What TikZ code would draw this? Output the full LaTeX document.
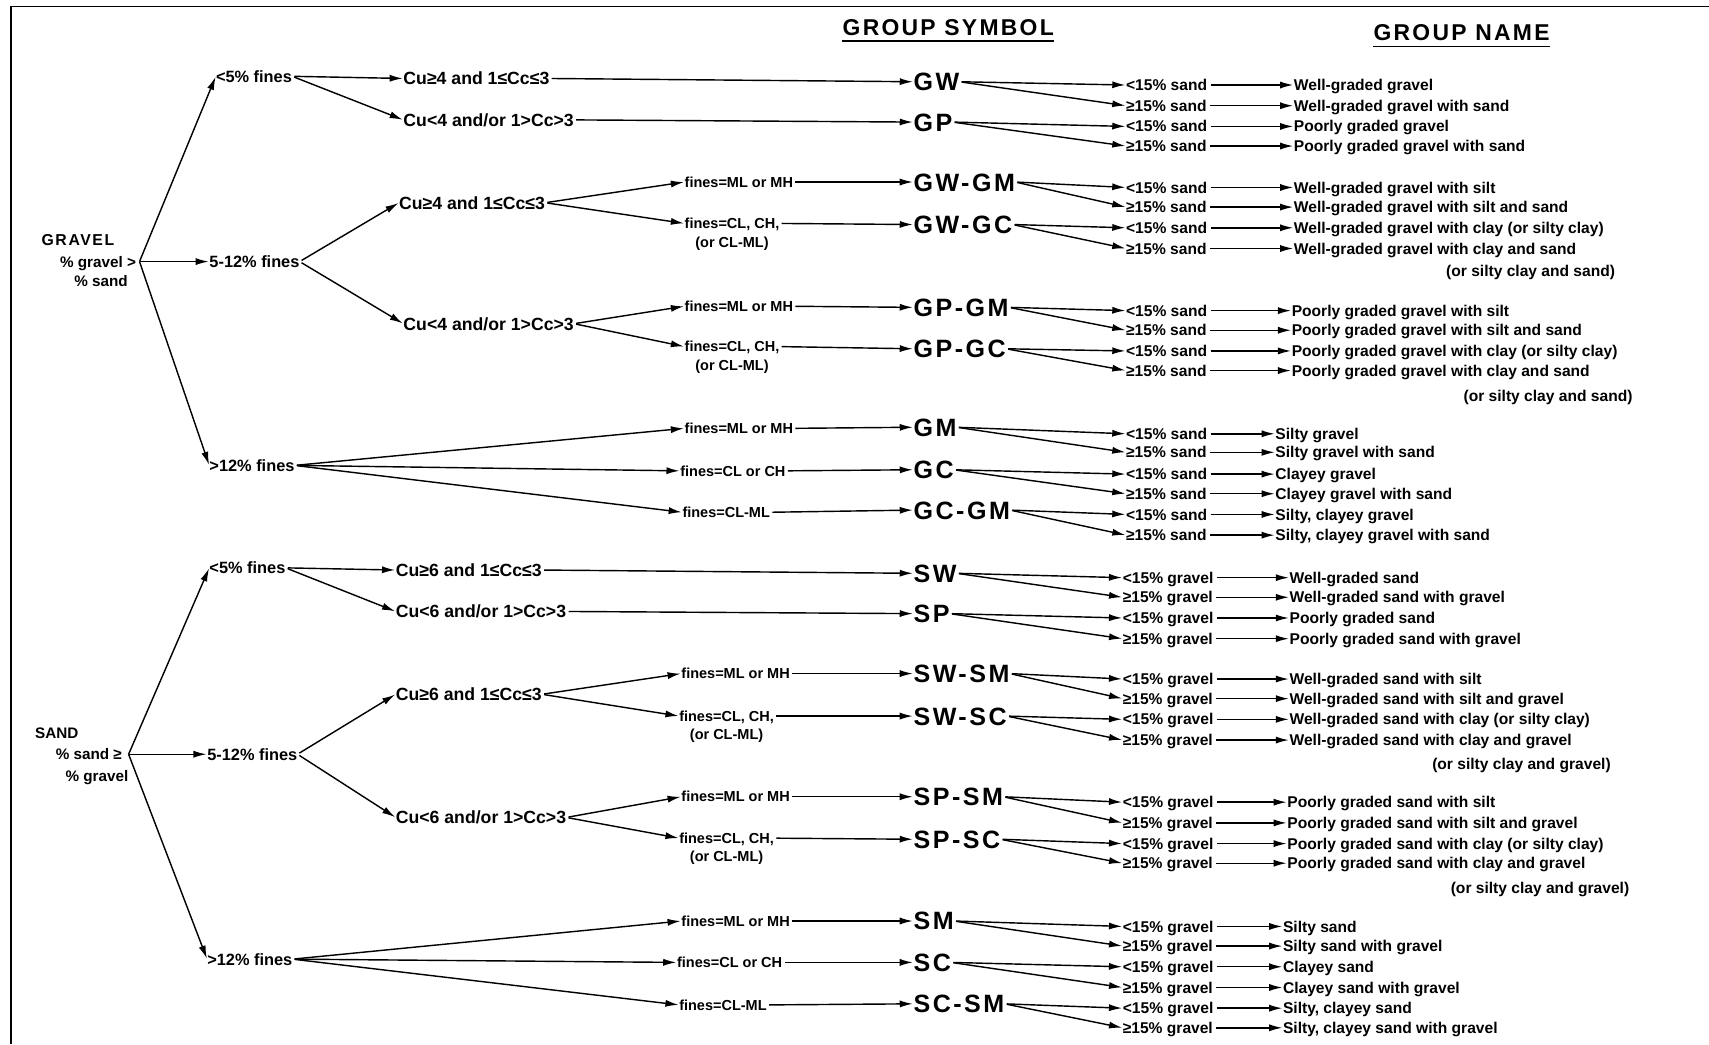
\documentclass[tikz,border=0pt]{standalone}
\usepackage{fontspec}
\setmainfont{Liberation Sans}
\newfontfamily\spacedfont{Liberation Sans}[LetterSpace=10]
\usetikzlibrary{arrows.meta}
\begin{document}
\begin{tikzpicture}[x=1pt,y=-1pt,
  txt/.style={inner sep=0pt, anchor=west, text height=10.8pt, text depth=0pt, font=\bfseries\fontsize{15}{15}\selectfont},
  cu/.style={txt, text height=11.6pt, font=\bfseries\fontsize{16.2}{16.2}\selectfont},
  nam/.style={txt, text height=10.2pt, font=\bfseries\fontsize{14.3}{14.3}\selectfont},
  fin/.style={txt, text height=9.6pt, font=\bfseries\fontsize{13.3}{13.3}\selectfont},
  lbl/.style={txt, text height=10pt, font=\bfseries\fontsize{14}{14}\selectfont},
  sym/.style={txt, text height=16.5pt, font=\spacedfont\bfseries\fontsize{23}{23}\selectfont},
  head/.style={inner sep=0pt, text height=15pt, text depth=0pt, font=\spacedfont\bfseries\fontsize{21}{21}\selectfont},
  arr/.style={-{Latex[length=12pt,width=6.5pt]}, line width=1.3pt, shorten <=2pt, shorten >=0.5pt},
]
\useasboundingbox (0,0) rectangle (1568,958);
\fill[white] (0,0) rectangle (1568,958);
\draw[line width=1.5pt] (10,958) -- (10,6) -- (1568,6);

% headings
\node[head] (hs) at (870,25) {GROUP SYMBOL};
\node[head] (hn) at (1341,30) {GROUP NAME};
\draw[line width=1.3pt] ([yshift=-5pt]hs.south west) -- ([yshift=-5pt]hs.south east);
\draw[line width=1.3pt] ([yshift=-5pt]hn.south west) -- ([yshift=-5pt]hn.south east);

% ================= GRAVEL =================
\node[lbl, font=\spacedfont\bfseries\fontsize{14.5}{14.5}\selectfont] (gA) at (38,220) {GRAVEL};
\node[lbl, anchor=east] (gB) at (125,240) {\% gravel >};
\node[lbl] (gC) at (68,258) {\% sand};
\coordinate (gO) at (128,240);

\node[txt] (g5) at (198,70) {<5\% fines};
\node[txt] (g512) at (192,240) {5-12\% fines};
\node[txt] (g12) at (192,427) {>12\% fines};
\draw[arr, shorten <=0pt] (gO) -- (g5.west);
\draw[arr, shorten <=0pt] (gO) -- (g512.west);
\draw[arr, shorten <=0pt] (gO) -- (g12.west);

\node[cu] (gc1) at (370,72) {Cu≥4 and 1≤Cc≤3};
\node[cu] (gc2) at (370,110) {Cu<4 and/or 1>Cc>3};
\node[cu] (gc3) at (366,186) {Cu≥4 and 1≤Cc≤3};
\node[cu] (gc4) at (370,297) {Cu<4 and/or 1>Cc>3};
\draw[arr] (g5.east) -- (gc1.west);
\draw[arr] (g5.east) -- (gc2.west);
\draw[arr] (g512.east) -- (gc3.west);
\draw[arr] (g512.east) -- (gc4.west);

\node[fin] (gf1) at (628,167) {fines=ML or MH};
\node[fin] (gf2) at (628,205) {fines=CL, CH,};
\node[fin, anchor=north] (gf2b) at ([yshift=-7pt]gf2.south) {(or CL-ML)};
\node[fin] (gf3) at (628,281) {fines=ML or MH};
\node[fin] (gf4) at (628,318) {fines=CL, CH,};
\node[fin, anchor=north] (gf4b) at ([yshift=-7pt]gf4.south) {(or CL-ML)};
\node[fin] (gf5) at (628,393) {fines=ML or MH};
\node[fin] (gf6) at (624,432) {fines=CL or CH};
\node[fin] (gf7) at (626,470) {fines=CL-ML};
\draw[arr] (gc3.east) -- (gf1.west);
\draw[arr] (gc3.east) -- (gf2.west);
\draw[arr] (gc4.east) -- (gf3.west);
\draw[arr] (gc4.east) -- (gf4.west);
\draw[arr] (g12.east) -- (gf5.west);
\draw[arr] (g12.east) -- (gf6.west);
\draw[arr] (g12.east) -- (gf7.west);

\foreach \n/\y/\t in {1/75/GW, 2/112/GP, 3/167/GW-GM, 4/206/GW-GC, 5/282/GP-GM, 6/320/GP-GC, 7/392/GM, 8/431/GC, 9/468/GC-GM}
  \node[sym] (gs\n) at (838,\y) {\t};
\draw[arr] (gc1.east) -- (gs1.west);
\draw[arr] (gc2.east) -- (gs2.west);
\draw[arr] (gf1.east) -- (gs3.west);
\draw[arr] (gf2.east) -- (gs4.west);
\draw[arr] (gf3.east) -- (gs5.west);
\draw[arr] (gf4.east) -- (gs6.west);
\draw[arr] (gf5.east) -- (gs7.west);
\draw[arr] (gf6.east) -- (gs8.west);
\draw[arr] (gf7.east) -- (gs9.west);

\foreach \i/\y/\q/\nx/\nm in {
 1/78/{<15\% sand}/1187/{Well-graded gravel},
 2/97/{≥15\% sand}/1187/{Well-graded gravel with sand},
 3/116/{<15\% sand}/1187/{Poorly graded gravel},
 4/134/{≥15\% sand}/1187/{Poorly graded gravel with sand},
 5/172/{<15\% sand}/1187/{Well-graded gravel with silt},
 6/190/{≥15\% sand}/1187/{Well-graded gravel with silt and sand},
 7/209/{<15\% sand}/1187/{Well-graded gravel with clay (or silty clay)},
 8/228/{≥15\% sand}/1187/{Well-graded gravel with clay and sand},
 9/285/{<15\% sand}/1185/{Poorly graded gravel with silt},
 10/303/{≥15\% sand}/1185/{Poorly graded gravel with silt and sand},
 11/322/{<15\% sand}/1185/{Poorly graded gravel with clay (or silty clay)},
 12/340/{≥15\% sand}/1185/{Poorly graded gravel with clay and sand},
 13/398/{<15\% sand}/1170/{Silty gravel},
 14/415/{≥15\% sand}/1170/{Silty gravel with sand},
 15/435/{<15\% sand}/1170/{Clayey gravel},
 16/453/{≥15\% sand}/1170/{Clayey gravel with sand},
 17/472/{<15\% sand}/1170/{Silty, clayey gravel},
 18/491/{≥15\% sand}/1170/{Silty, clayey gravel with sand}}
{
  \node[nam] (gq\i) at (1033,\y) {\q};
  \node[nam] (gn\i) at (\nx,\y) {\nm};
  \draw[arr, shorten <=3pt] (gq\i.east) -- (gn\i.west);
}
\node[nam, anchor=east] (gn8b) at (1482,249) {(or silty clay and sand)};
\node[nam, anchor=east] (gn12b) at (1498,363) {(or silty clay and sand)};

\foreach \s/\a/\b in {1/1/2, 2/3/4, 3/5/6, 4/7/8, 5/9/10, 6/11/12, 7/13/14, 8/15/16, 9/17/18}{
  \draw[arr] (gs\s.east) -- (gq\a.west);
  \draw[arr] (gs\s.east) -- (gq\b.west);
}

% ================= SAND =================
\node[lbl] (sA) at (32,673) {SAND};
\node[lbl, anchor=east] (sB) at (112,692) {\% sand ≥};
\node[lbl] (sC) at (60,712) {\% gravel};
\coordinate (sO) at (118,692);

\node[txt] (s5) at (192,521) {<5\% fines};
\node[txt] (s512) at (190,692) {5-12\% fines};
\node[txt] (s12) at (190,880) {>12\% fines};
\draw[arr, shorten <=0pt] (sO) -- (s5.west);
\draw[arr, shorten <=0pt] (sO) -- (s512.west);
\draw[arr, shorten <=0pt] (sO) -- (s12.west);

\node[cu] (sc1) at (363,523) {Cu≥6 and 1≤Cc≤3};
\node[cu] (sc2) at (363,561) {Cu<6 and/or 1>Cc>3};
\node[cu] (sc3) at (363,637) {Cu≥6 and 1≤Cc≤3};
\node[cu] (sc4) at (363,750) {Cu<6 and/or 1>Cc>3};
\draw[arr] (s5.east) -- (sc1.west);
\draw[arr] (s5.east) -- (sc2.west);
\draw[arr] (s512.east) -- (sc3.west);
\draw[arr] (s512.east) -- (sc4.west);

\node[fin] (sf1) at (625,618) {fines=ML or MH};
\node[fin] (sf2) at (623,657) {fines=CL, CH,};
\node[fin, anchor=north] (sf2b) at ([yshift=-7pt]sf2.south) {(or CL-ML)};
\node[fin] (sf3) at (625,731) {fines=ML or MH};
\node[fin] (sf4) at (623,769) {fines=CL, CH,};
\node[fin, anchor=north] (sf4b) at ([yshift=-7pt]sf4.south) {(or CL-ML)};
\node[fin] (sf5) at (625,845) {fines=ML or MH};
\node[fin] (sf6) at (621,883) {fines=CL or CH};
\node[fin] (sf7) at (623,922) {fines=CL-ML};
\draw[arr] (sc3.east) -- (sf1.west);
\draw[arr] (sc3.east) -- (sf2.west);
\draw[arr] (sc4.east) -- (sf3.west);
\draw[arr] (sc4.east) -- (sf4.west);
\draw[arr] (s12.east) -- (sf5.west);
\draw[arr] (s12.east) -- (sf6.west);
\draw[arr] (s12.east) -- (sf7.west);

\foreach \n/\y/\t in {1/526/SW, 2/563/SP, 3/618/SW-SM, 4/657/SW-SC, 5/731/SP-SM, 6/770/SP-SC, 7/845/SM, 8/883/SC, 9/921/SC-SM}
  \node[sym] (ss\n) at (838,\y) {\t};
\draw[arr] (sc1.east) -- (ss1.west);
\draw[arr] (sc2.east) -- (ss2.west);
\draw[arr] (sf1.east) -- (ss3.west);
\draw[arr] (sf2.east) -- (ss4.west);
\draw[arr] (sf3.east) -- (ss5.west);
\draw[arr] (sf4.east) -- (ss6.west);
\draw[arr] (sf5.east) -- (ss7.west);
\draw[arr] (sf6.east) -- (ss8.west);
\draw[arr] (sf7.east) -- (ss9.west);

\foreach \i/\y/\q/\nx/\nm in {
 1/530/{<15\% gravel}/1183/{Well-graded sand},
 2/548/{≥15\% gravel}/1183/{Well-graded sand with gravel},
 3/567/{<15\% gravel}/1183/{Poorly graded sand},
 4/586/{≥15\% gravel}/1183/{Poorly graded sand with gravel},
 5/623/{<15\% gravel}/1183/{Well-graded sand with silt},
 6/641/{≥15\% gravel}/1183/{Well-graded sand with silt and gravel},
 7/660/{<15\% gravel}/1183/{Well-graded sand with clay (or silty clay)},
 8/679/{≥15\% gravel}/1183/{Well-graded sand with clay and gravel},
 9/736/{<15\% gravel}/1181/{Poorly graded sand with silt},
 10/755/{≥15\% gravel}/1181/{Poorly graded sand with silt and gravel},
 11/774/{<15\% gravel}/1181/{Poorly graded sand with clay (or silty clay)},
 12/792/{≥15\% gravel}/1181/{Poorly graded sand with clay and gravel},
 13/850/{<15\% gravel}/1177/{Silty sand},
 14/868/{≥15\% gravel}/1177/{Silty sand with gravel},
 15/887/{<15\% gravel}/1177/{Clayey sand},
 16/906/{≥15\% gravel}/1177/{Clayey sand with gravel},
 17/925/{<15\% gravel}/1177/{Silty, clayey sand},
 18/943/{≥15\% gravel}/1177/{Silty, clayey sand with gravel}}
{
  \node[nam] (sq\i) at (1030,\y) {\q};
  \node[nam] (sn\i) at (\nx,\y) {\nm};
  \draw[arr, shorten <=3pt] (sq\i.east) -- (sn\i.west);
}
\node[nam, anchor=east] (sn8b) at (1478,701) {(or silty clay and gravel)};
\node[nam, anchor=east] (sn12b) at (1495,815) {(or silty clay and gravel)};

\foreach \s/\a/\b in {1/1/2, 2/3/4, 3/5/6, 4/7/8, 5/9/10, 6/11/12, 7/13/14, 8/15/16, 9/17/18}{
  \draw[arr] (ss\s.east) -- (sq\a.west);
  \draw[arr] (ss\s.east) -- (sq\b.west);
}
\end{tikzpicture}
\end{document}
